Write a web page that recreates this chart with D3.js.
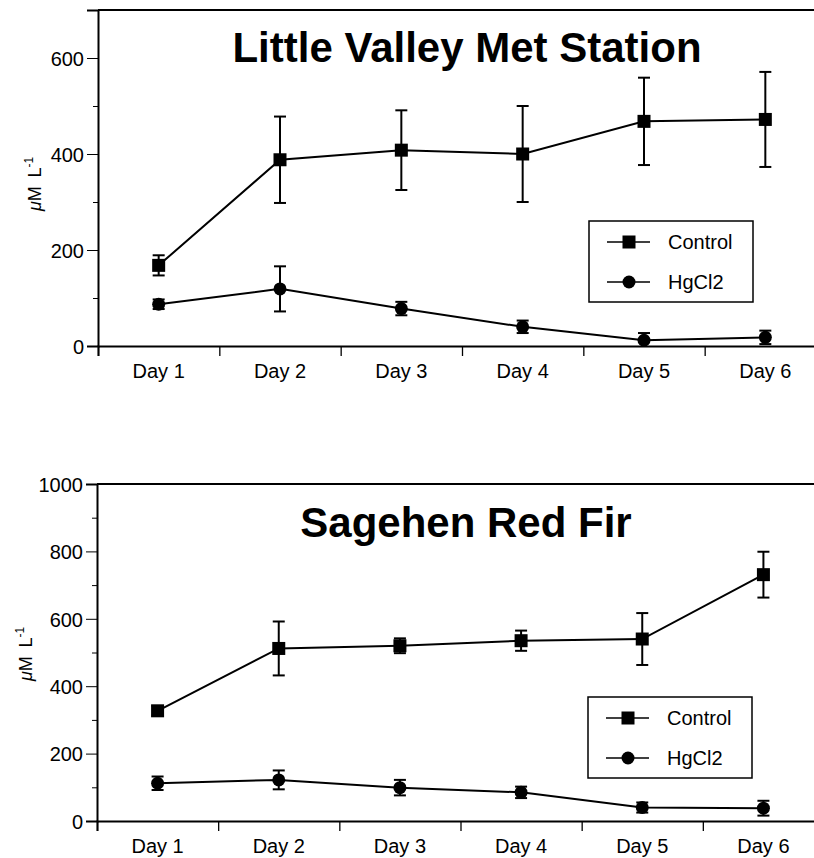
<!DOCTYPE html>
<html>
<head>
<meta charset="utf-8">
<script src="https://cdn.jsdelivr.net/npm/d3@7"></script>
<style>
  body { margin: 0; background: #fff; }
  svg text { font-family: "Liberation Sans", Arial, Helvetica, sans-serif; fill: #000; }
</style>
</head>
<body>
<svg id="ChartSvg" width="814" height="858"></svg>
<script>
var days = ['Day 1', 'Day 2', 'Day 3', 'Day 4', 'Day 5', 'Day 6']
var seriesNames = ['Control', 'HgCl2']

// Little Valley Met Station
var lvControl = [168, 388, 408, 400, 468, 472]
var lvControlErr = [21, 90, 83, 100, 91, 99]
var lvHg = [87, 119, 78, 40, 12, 18]
var lvHgErr = [10, 47, 14, 13, 15, 14]
var lvTicks = [0, 200, 400, 600]

// Sagehen Red Fir
var srControl = [327, 512, 520, 535, 540, 731]
var srControlErr = [14, 80, 22, 30, 77, 68]
var srHg = [112, 122, 99, 85, 40, 38]
var srHgErr = [20, 28, 23, 17, 15, 22]
var srTicks = [0, 200, 400, 600, 800, 1000]

var ChartSvg = d3.select('#ChartSvg')

function DrawPanel(p) {
    var g = ChartSvg.append('g')
    var xScale = d3.scaleBand().domain(days).range([p.left, p.right])
    var yScale = d3.scaleLinear().domain([0, p.ymax]).range([p.bottom, p.top])

    // frame top line
    g.append('line')
        .attr('x1', p.left).attr('x2', p.right)
        .attr('y1', p.top).attr('y2', p.top)
        .attr('stroke', '#000').attr('stroke-width', 2)

    // y axis (major + minor ticks)
    var yAxis = d3.axisLeft(yScale).tickValues(p.ticks).tickSize(11).tickPadding(3).tickFormat(d3.format('d'))
    var gy = g.append('g')
        .attr('transform', `translate(${p.left},0)`)
        .call(yAxis)
    gy.select('.domain').attr('stroke-width', 2)
    gy.selectAll('.tick line').attr('stroke-width', 1)
    gy.selectAll('.tick text').attr('font-size', 20).attr('fill', '#000')
        .attr('dy', '0.36em')
        .style('font-family', '"Liberation Sans", Arial, sans-serif')
    var minor = d3.range(100, p.ymax, 200)
    g.append('g').attr('transform', `translate(${p.left},0)`)
        .call(d3.axisLeft(yScale).tickValues(minor).tickSize(5).tickFormat(''))
        .select('.domain').remove()

    // x axis, ticks between categories
    var xLin = d3.scaleLinear().domain([0, days.length]).range([p.left, p.right])
    var gx = g.append('g')
        .attr('transform', `translate(0,${p.bottom})`)
        .call(d3.axisBottom(xLin).tickValues(d3.range(days.length + 1)).tickSize(10).tickFormat(''))
    gx.select('.domain').attr('stroke-width', 2)
    gx.selectAll('.tick line').attr('stroke-width', 1.3)
    g.selectAll('.daylabel').data(days).enter().append('text')
        .attr('x', d => xScale(d) + xScale.bandwidth() / 2)
        .attr('y', p.bottom + 32)
        .attr('text-anchor', 'middle')
        .attr('font-size', 20)
        .text(d => d)

    // y label
    var yl = g.append('text')
        .attr('transform', `translate(${p.ylabelX},${p.ylabelY}) rotate(-90)`)
        .attr('text-anchor', 'middle')
        .attr('font-size', 18)
    yl.append('tspan').attr('font-style', 'italic').text('\u03bc')
    yl.append('tspan').text('M\u2009 L')
    yl.append('tspan').attr('font-size', 12).attr('dy', -8).text('-1')

    // title
    g.append('text')
        .attr('x', p.titleX).attr('y', p.titleY)
        .attr('text-anchor', 'middle')
        .attr('font-size', 42).attr('font-weight', 'bold')
        .text(p.title)

    var cx = d => xScale(d) + xScale.bandwidth() / 2
    var series = [
        { vals: p.control, err: p.controlErr, shape: 'square' },
        { vals: p.hg, err: p.hgErr, shape: 'circle' }
    ]
    series.forEach(s => {
        var pts = days.map((d, i) => ({ d: d, v: s.vals[i], e: s.err[i] }))
        g.append('path').datum(pts)
            .attr('fill', 'none').attr('stroke', '#000').attr('stroke-width', 2)
            .attr('d', d3.line().x(q => cx(q.d)).y(q => yScale(q.v)))
        pts.forEach(q => {
            var x = cx(q.d)
            var y1 = yScale(q.v + q.e), y0 = yScale(Math.max(0, q.v - q.e))
            g.append('line').attr('x1', x).attr('x2', x).attr('y1', y1).attr('y2', y0)
                .attr('stroke', '#000').attr('stroke-width', 2)
            g.append('line').attr('x1', x - 6).attr('x2', x + 6).attr('y1', y1).attr('y2', y1)
                .attr('stroke', '#000').attr('stroke-width', 2)
            if (q.v - q.e > 0) {
                g.append('line').attr('x1', x - 6).attr('x2', x + 6).attr('y1', y0).attr('y2', y0)
                    .attr('stroke', '#000').attr('stroke-width', 2)
            }
            if (s.shape === 'square') {
                g.append('rect').attr('x', x - 6.5).attr('y', yScale(q.v) - 6.5)
                    .attr('width', 13).attr('height', 13).attr('fill', '#000')
            } else {
                g.append('circle').attr('cx', x).attr('cy', yScale(q.v)).attr('r', 6.5).attr('fill', '#000')
            }
        })
    })

    // legend
    var lg = g.append('g').attr('transform', `translate(${p.legX},${p.legY})`)
    lg.append('rect').attr('x', 0).attr('y', 0).attr('width', 164).attr('height', 81)
        .attr('fill', '#fff').attr('stroke', '#000').attr('stroke-width', 1.5)
    seriesNames.forEach((name, i) => {
        var ly = 21 + i * 40
        lg.append('line').attr('x1', 18).attr('x2', 61).attr('y1', ly).attr('y2', ly)
            .attr('stroke', '#000').attr('stroke-width', 1.5)
        if (i === 0) {
            lg.append('rect').attr('x', 40 - 6.5).attr('y', ly - 6.5).attr('width', 13).attr('height', 13).attr('fill', '#000')
        } else {
            lg.append('circle').attr('cx', 40).attr('cy', ly).attr('r', 6.5).attr('fill', '#000')
        }
        lg.append('text').attr('x', 79).attr('y', ly + 7).attr('font-size', 20).text(name)
    })
}

DrawPanel({
    title: 'Little Valley Met Station', titleX: 467, titleY: 62,
    left: 98, right: 826, top: 10, bottom: 346, ymax: 700, ticks: lvTicks,
    ylabelX: 41, ylabelY: 184,
    control: lvControl, controlErr: lvControlErr, hg: lvHg, hgErr: lvHgErr,
    legX: 589, legY: 221
})

DrawPanel({
    title: 'Sagehen Red Fir', titleX: 466, titleY: 537,
    left: 97, right: 824, top: 484, bottom: 821, ymax: 1000, ticks: srTicks,
    ylabelX: 32, ylabelY: 654,
    control: srControl, controlErr: srControlErr, hg: srHg, hgErr: srHgErr,
    legX: 588, legY: 697
})
</script>
</body>
</html>
